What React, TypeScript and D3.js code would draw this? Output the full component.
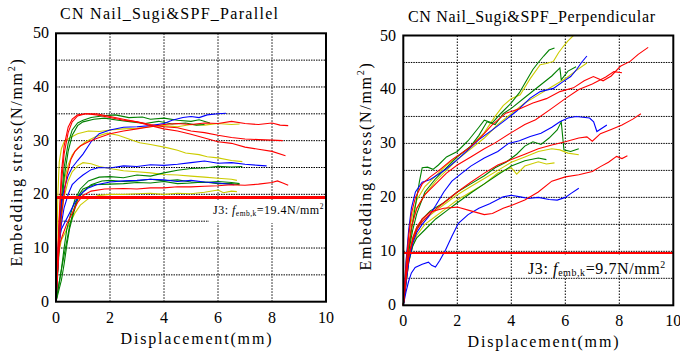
import * as d3 from 'd3'

type Pt = [number, number]

const xTicks = [0, 2, 4, 6, 8, 10]
const yTicks = [0, 10, 20, 30, 40, 50]
const xGrid = [2, 4, 6, 8]
const yGrid = [5, 10, 15, 20, 25, 30, 35, 40, 45]

// ---- Parallel (left) ----
const parRedA: Pt[] = [[0,0],[0.05,6],[0.12,15],[0.2,22],[0.3,27.5],[0.45,31.5],[0.6,33.5],[0.8,34.6],[1.1,35],[1.5,34.8],[2,34.3],[2.5,33.8],[3,33.5],[3.5,33],[4,32.6],[4.5,32.4],[5,31.8],[5.5,31.5],[6,31],[6.5,30.6],[7,30.3],[7.5,30.2],[8,30.1],[8.4,30]]
const parRedB: Pt[] = [[0,0],[0.05,7],[0.12,16],[0.2,24],[0.3,29],[0.45,32.5],[0.6,34],[0.8,34.8],[1.1,35],[1.5,35],[2,34.5],[2.5,34],[3,33.5],[3.5,32.8],[4,32.2],[4.5,31.8],[5,31.2],[5.5,30.5],[6,29.8],[6.5,29.5],[7,28.8],[7.5,28.4],[8,28],[8.5,27.2]]
const parRedC: Pt[] = [[0,0],[0.05,5],[0.12,11],[0.2,16],[0.3,20],[0.4,23.5],[0.55,26.5],[0.7,28],[0.9,29],[1.2,29.8],[1.5,30.4],[2,31.3],[2.5,31.8],[3,32.2],[3.5,32.6],[4,33],[4.5,33.2],[5,33],[5.5,33.3],[6,33.2],[6.5,33.6],[7,33.2],[7.5,33],[8,33.3],[8.3,32.9],[8.6,32.8]]
const parRedE: Pt[] = [[0,0],[0.05,5],[0.1,9],[0.15,11],[0.25,12.5],[0.4,14.5],[0.6,16.5],[0.8,18.5],[1,19.8],[1.3,20.6],[1.8,21],[2.5,21.1],[3,21],[3.5,21.2],[4,21.2],[4.5,21.4],[5,21.4],[5.5,21.5],[6,21.6],[6.5,21.8],[7,21.7],[7.5,21.9],[8,22.2],[8.2,22.5],[8.4,22.1],[8.6,21.7]]
const parBlueA: Pt[] = [[0,0],[0.05,7],[0.12,14],[0.2,18.5],[0.3,21],[0.45,23.5],[0.6,25],[0.8,26.3],[1,27.5],[1.3,29.8],[1.6,31.3],[2,32],[2.5,32.5],[3,32.6],[3.5,32.8],[4,33.2],[4.3,33.8],[4.7,34.3],[5,34.5],[5.3,34.3],[5.6,34.8],[6,35],[6.3,35.1]]
const parBlueB: Pt[] = [[0,0],[0.05,5],[0.1,10],[0.2,14.5],[0.3,17.5],[0.45,20],[0.6,21.8],[0.8,22.8],[1,23.6],[1.3,24.6],[1.6,25],[2,24.9],[2.5,25.3],[3,25.2],[3.5,25.5],[4,25.4],[4.5,25.6],[5,25.9],[5.5,26.2],[6,25.8],[6.5,25.9],[7,25.6],[7.5,25.4],[7.8,25.3]]
const parBlueC: Pt[] = [[0,0],[0.05,6],[0.1,11],[0.2,13.5],[0.3,14.5],[0.5,16.5],[0.7,18.5],[0.9,20],[1.2,21.2],[1.5,21.8],[2,22.3],[2.5,22.5],[3,22.6],[3.5,22.8],[4,22.7],[4.5,22.4],[5,22.6],[5.5,22.3],[6,22.1],[6.6,21.8]]
const parGreenA: Pt[] = [[0,0],[0.05,5],[0.12,12],[0.2,19],[0.3,25],[0.45,29.5],[0.6,32],[0.8,33.3],[1,33.8],[1.3,34.3],[1.7,34.6],[2.2,34.8],[2.7,34.3],[3.2,34.4],[3.5,34],[4,34.2],[4.5,33.8],[5,33.6],[5.3,33.9],[5.7,33.3]]
const parGreenB: Pt[] = [[0,0],[0.05,4],[0.12,10],[0.2,17],[0.3,23],[0.45,28],[0.6,31],[0.8,32.8],[1,33.5],[1.4,34],[1.8,34.2],[2.3,33.8],[2.8,33.5],[3.3,33.2],[3.8,33.6],[4.3,33.1],[4.8,33.3],[5.2,32.9],[5.5,33]]
const parGreenC: Pt[] = [[0,0],[0.1,3],[0.2,6],[0.3,10],[0.4,13.5],[0.55,16.5],[0.7,19],[0.9,21],[1.2,22.5],[1.6,23.2],[2,23.3],[2.5,23.1],[3,23.6],[3.5,23.4],[4,24],[4.5,24.5],[5,24.8],[5.5,24.9],[6,25.2],[6.5,25.1],[6.9,25.2]]
const parGreenD: Pt[] = [[0,0],[0.1,2],[0.2,4],[0.3,7],[0.4,10.5],[0.5,13.5],[0.65,16.5],[0.8,19],[1,20.5],[1.3,21.8],[1.7,22.5],[2,22.6],[2.5,22.4],[3,22.5],[3.5,22.8],[4,22.5],[4.5,22.7],[5,22.3],[5.5,22.2],[6,22.4],[6.5,22.2],[6.8,22]]
const parGreenE: Pt[] = [[0,0],[0.1,3],[0.2,6],[0.35,10],[0.5,14],[0.65,17],[0.8,19.5],[1,21],[1.4,21.8],[2,21.9],[2.5,22],[3,22.2],[3.5,22.1],[4,22.4],[4.5,22],[5,22.1],[5.5,22.3],[6,22],[6.5,22],[6.8,21.8]]
const parYellowA: Pt[] = [[0,0],[0.03,10],[0.07,20],[0.12,26],[0.2,28.5],[0.3,29.8],[0.5,30.5],[0.8,31.3],[1.2,31.8],[1.6,31.7],[2,32],[2.5,32.2],[3,32.3],[3.5,32.6],[4,32.8],[4.5,32.6],[5,33],[5.5,32.9],[6,33.2],[6.5,33],[6.8,33.1]]
const parYellowB: Pt[] = [[0,0],[0.05,5],[0.12,12],[0.2,18],[0.3,22.5],[0.45,25.5],[0.6,27.3],[0.8,28.6],[1.1,29.8],[1.5,30.8],[1.9,31.4],[2.3,31],[2.7,30.3],[3.1,29.6],[3.5,29.3],[4.1,28.7],[4.5,28.2],[4.8,27.7],[5.3,27.4],[5.6,27],[6,26.8],[6.5,26.3],[6.9,26.1]]
const parYellowC: Pt[] = [[0,0],[0.05,6],[0.12,12],[0.2,16],[0.3,19.5],[0.45,22.5],[0.6,24.2],[0.8,25.3],[1,25.9],[1.3,25.7],[1.6,25.2],[2,24.8],[2.5,24.4],[3,24.2],[3.5,24],[4,23.7],[4.5,23.6],[5,23.4],[5.5,23.2],[6,23],[6.5,22.8],[6.7,22.6]]
const parYellowD: Pt[] = [[0,0],[0.05,5],[0.1,9],[0.2,11.5],[0.35,13],[0.5,14.5],[0.7,16.5],[0.9,18],[1.2,19.2],[1.6,19.8],[2,20],[2.5,20],[3,20.1],[3.5,20.2],[4,20],[4.5,20.2],[5,20.1],[5.5,20.4],[6,20.8],[6.2,20.3],[6.5,20.6],[6.7,20.5]]

// ---- Perpendicular (right) ----
const perYellow1: Pt[] = [[0,0],[0.1,8],[0.2,13],[0.35,17],[0.5,19.5],[0.8,22],[1.2,24],[1.6,26],[2,27.5],[2.5,29.5],[3,32],[3.4,35],[3.7,37],[4,38.3],[4.33,39],[4.7,42],[5.07,44.6],[5.3,44.8],[5.56,45.2],[5.75,46.8],[5.93,48],[6.1,49],[6.3,50]]
const perGreen1: Pt[] = [[0,0],[0.1,5],[0.2,10],[0.3,14],[0.4,17],[0.5,20],[0.6,23],[0.7,25.5],[0.9,25.6],[1.1,25.2],[1.3,26],[1.6,27.5],[2,28.5],[2.4,30.5],[2.8,33],[3,34.3],[3.3,33.8],[3.6,35.5],[4,37.5],[4.3,39.4],[4.6,42],[4.8,43.7],[5,45],[5.2,46.2],[5.4,47.3],[5.6,47.7]]
const perBlue1: Pt[] = [[0,0],[0.1,8],[0.2,14],[0.3,18],[0.45,21],[0.7,22.8],[1,23.3],[1.3,24.3],[1.6,25.3],[2,27],[2.4,28.8],[2.8,30.7],[3.3,32.5],[3.8,34.4],[4.2,36],[4.7,38.4],[5.07,39.6],[5.56,40.2],[5.93,41.5],[6.2,42.4],[6.42,43.7],[6.6,45],[6.8,46.2]]
const perYellow2: Pt[] = [[0,0],[0.1,6],[0.2,11],[0.35,15.5],[0.5,18],[0.8,20.5],[1.2,23],[1.6,25],[2,27],[2.5,29],[3,31],[3.5,33.5],[4,35.5],[4.5,37.5],[5,39],[5.5,40.5],[6,42],[6.4,43.5],[6.8,44.9]]
const perGreen2: Pt[] = [[0,0],[0.1,5],[0.2,10],[0.35,14],[0.5,17],[0.8,21],[1.2,23.5],[1.6,25.5],[2,27.5],[2.5,29.5],[2.8,31.5],[3.1,34],[3.4,33.5],[3.7,35.5],[4,36.5],[4.5,38.5],[5,40.5],[5.5,42.5],[5.8,44],[5.85,41.8],[6.1,43.4],[6.4,44.2]]
const perRed1: Pt[] = [[0,0],[0.1,7],[0.2,13],[0.3,17],[0.45,20],[0.7,22.5],[1,23.8],[1.3,24.9],[1.8,27],[2.4,29],[2.9,31.3],[3.3,33.5],[3.8,35.6],[4.3,36.4],[4.8,37.5],[5.3,38.3],[5.8,39.6],[6.3,40.3],[6.7,41.6],[7.04,42.4],[7.4,41.6],[7.7,42.5],[8.04,44.3],[8.4,45.2],[8.7,46.5],[9.07,47.8]]
const perRed2: Pt[] = [[0,0],[0.1,6],[0.2,11],[0.3,14.5],[0.5,18],[0.8,20.5],[1.2,22.5],[1.6,24.5],[2,26],[2.5,27.5],[3,29],[3.4,30.1],[4,32],[4.5,33.5],[4.9,34.4],[5.5,36.5],[6,38.3],[6.5,40],[7,41],[7.5,42.3],[7.8,43.3],[8.1,43.1]]
const perBlue2: Pt[] = [[0,0],[0.1,4],[0.2,8],[0.35,11.5],[0.5,13.5],[0.7,15],[0.93,16.4],[1.2,18.5],[1.5,21],[1.8,23],[2.17,24.5],[2.5,25.8],[3,27.3],[3.5,28.5],[3.9,30],[4.3,30.5],[4.7,31.3],[5.1,31.9],[5.5,33],[5.8,34],[6.1,34.7],[6.4,35],[6.9,34.7],[7.05,34],[7.17,32.2],[7.54,33.4]]
const perGreen3: Pt[] = [[0,0],[0.1,5],[0.2,9],[0.35,12],[0.5,14],[0.7,16],[1,17.5],[1.5,19],[2,21],[2.5,22.5],[3,24],[3.4,25.5],[3.8,26.5],[4.2,28],[4.5,29.5],[4.8,30.3],[5.1,29.8],[5.4,31],[5.7,32.5],[5.85,34],[5.95,28.8],[6.2,28.5],[6.5,29]]
const perGreen4: Pt[] = [[0,0],[0.1,4],[0.2,8],[0.35,11],[0.5,12.5],[0.8,14],[1.2,16],[1.6,17.5],[2,19],[2.5,20.8],[3,22.5],[3.5,24.2],[4,25.8],[4.5,26.8],[5,27.3],[5.3,27]]
const perRed3: Pt[] = [[0,0],[0.1,5],[0.2,9],[0.35,12],[0.5,14],[0.7,15.5],[1,17],[1.5,19],[2,21],[2.5,22.8],[3,24.5],[3.5,26],[4,27],[4.5,28],[5,29],[5.5,29.7],[6,30.3],[6.5,31],[6.8,31.2],[7,30.4],[7.3,31.8],[7.7,32.6],[8.1,33.4],[8.5,34.5],[8.8,35.5]]
const perYellow3: Pt[] = [[0,0],[0.1,5],[0.2,9],[0.35,12.5],[0.5,14.5],[0.8,16],[1.2,17.5],[1.6,19],[2,20.5],[2.5,22],[3,23.5],[3.5,25],[4,26.5],[4.5,27.5],[5,28.5],[5.5,29],[5.8,28.8],[6.1,28.2],[6.5,27.9]]
const perYellow4: Pt[] = [[0,0],[0.1,4],[0.2,8],[0.35,11],[0.5,13],[0.8,15],[1.2,16.5],[1.6,18],[2,19.5],[2.5,21],[3,22.5],[3.5,24.5],[4,25.5],[4.2,24.3],[4.5,25.8],[5,26.6],[5.3,26.2],[5.6,26.4]]
const perRed4: Pt[] = [[0,0],[0.1,5],[0.2,9],[0.35,12.5],[0.5,14.5],[0.7,16],[1,17.3],[1.5,18],[2,18.2],[2.5,17.5],[3,16.8],[3.3,17],[3.7,18],[4,18.5],[4.5,19.5],[5,21],[5.5,23],[6,23.8],[6.5,24.2],[7,24.8],[7.3,25.7],[7.6,26.5],[7.9,27.6],[8.1,27.2],[8.3,27.7]]
const perBlue3: Pt[] = [[0,0],[0.1,2.5],[0.2,4.5],[0.3,6],[0.44,7],[0.7,7.6],[0.93,8],[1.05,7.4],[1.19,7.1],[1.35,8.3],[1.56,10.2],[1.8,12.8],[2.04,15.2],[2.4,16.8],[2.8,18],[3.2,18.8],[3.7,20.1],[4,20.4],[4.33,20.1],[4.64,19.8],[5,20],[5.4,19.6],[5.7,19.5],[6,20],[6.2,20.7],[6.5,21.7]]

const colors: Record<string, string> = {
  red: '#ff0000',
  blue: '#0000ff',
  green: '#008000',
  yellow: '#cccc00'
}

const parallelSeries = [
  { color: 'yellow', pts: parYellowA }, { color: 'yellow', pts: parYellowB },
  { color: 'yellow', pts: parYellowC }, { color: 'yellow', pts: parYellowD },
  { color: 'green', pts: parGreenA }, { color: 'green', pts: parGreenB },
  { color: 'green', pts: parGreenC }, { color: 'green', pts: parGreenD }, { color: 'green', pts: parGreenE },
  { color: 'blue', pts: parBlueA }, { color: 'blue', pts: parBlueB }, { color: 'blue', pts: parBlueC },
  { color: 'red', pts: parRedA }, { color: 'red', pts: parRedB }, { color: 'red', pts: parRedC }, { color: 'red', pts: parRedE }
]

const perpSeries = [
  { color: 'yellow', pts: perYellow1 }, { color: 'yellow', pts: perYellow2 },
  { color: 'yellow', pts: perYellow3 }, { color: 'yellow', pts: perYellow4 },
  { color: 'green', pts: perGreen1 }, { color: 'green', pts: perGreen2 },
  { color: 'green', pts: perGreen3 }, { color: 'green', pts: perGreen4 },
  { color: 'blue', pts: perBlue1 }, { color: 'blue', pts: perBlue2 }, { color: 'blue', pts: perBlue3 },
  { color: 'red', pts: perRed1 }, { color: 'red', pts: perRed2 }, { color: 'red', pts: perRed3 }, { color: 'red', pts: perRed4 }
]

const serif = { fontFamily: '"Liberation Serif", "DejaVu Serif", serif' }

interface PanelProps {
  left: number
  right: number
  top: number
  bottom: number
  title: string
  titleX: number
  titleLen: number
  yTitleX: number
  yTitleY: number
  xTitleX: number
  series: { color: string; pts: Pt[] }[]
  limit: number
  limitWidth: number
  limitText: string
  box: { x0: number; x1: number; y0: number; y1: number }
  labelX: number
  labelY: number
  labelSize: number
  labelSpacing: number
  yLabelX: number
}

function Panel(p: PanelProps) {
  const x = d3.scaleLinear().domain([0, 10]).range([p.left, p.right])
  const y = d3.scaleLinear().domain([0, 50]).range([p.bottom, p.top])
  const line = d3.line<Pt>().x(d => x(d[0])).y(d => y(d[1]))
  const sub = p.labelSize * 0.62

  return (
    <g>
      <text x={p.titleX} y={p.top - 14} textAnchor="middle" style={serif} fontSize={16}
        textLength={p.titleLen} lengthAdjust="spacing">{p.title}</text>

      {yGrid.map(v => (
        <line key={'h' + v} x1={p.left} x2={p.right} y1={y(v)} y2={y(v)}
          stroke="#000" strokeWidth={1} strokeDasharray="1.5,1" />
      ))}
      {xGrid.map(v => (
        <line key={'v' + v} x1={x(v)} x2={x(v)} y1={p.top} y2={p.bottom}
          stroke="#000" strokeWidth={1} strokeDasharray="1.5,1.5" />
      ))}

      <rect x={p.box.x0} y={p.box.y0} width={p.box.x1 - p.box.x0} height={p.box.y1 - p.box.y0} fill="#fff" />

      {p.series.map((s, i) => (
        <path key={i} d={line(s.pts) || ''} fill="none" stroke={colors[s.color]} strokeWidth={1.1} />
      ))}

      <line x1={p.left} x2={p.right} y1={y(p.limit)} y2={y(p.limit)} stroke="#ff0000" strokeWidth={p.limitWidth} />

      <text x={p.labelX} y={p.labelY} style={serif} fontSize={p.labelSize} letterSpacing={p.labelSpacing}>
        <tspan>J3: </tspan>
        <tspan fontStyle="italic">f</tspan>
        <tspan fontSize={sub} dy={2}>emb,k</tspan>
        <tspan dy={-2}>{p.limitText}N/mm</tspan>
        <tspan fontSize={sub} dy={-p.labelSize * 0.4}>2</tspan>
      </text>

      <rect x={p.left} y={p.top} width={p.right - p.left} height={p.bottom - p.top}
        fill="none" stroke="#000" strokeWidth={2} />

      {yTicks.map(v => (
        <text key={'yt' + v} x={p.yLabelX} y={y(v) + 5} textAnchor="end" style={serif} fontSize={16}>{v}</text>
      ))}
      {xTicks.map(v => (
        <text key={'xt' + v} x={x(v)} y={p.bottom + 21} textAnchor="middle" style={serif} fontSize={16}>{v}</text>
      ))}

      <text x={p.xTitleX} y={p.bottom + 42} textAnchor="middle" style={serif} fontSize={16}
        textLength={151} lengthAdjust="spacing">Displacement(mm)</text>

      <text transform={`translate(${p.yTitleX},${p.yTitleY}) rotate(-90)`} textAnchor="middle"
        style={serif} fontSize={16} letterSpacing={1.7}>
        Embedding stress(N/mm<tspan fontSize={10} dy={-7}>2</tspan><tspan dy={7}>)</tspan>
      </text>
    </g>
  )
}

export default function App() {
  return (
    <svg width={680} height={353} style={{ position: 'absolute', left: 0, top: 0, background: '#fff' }}>
      <rect width={680} height={353} fill="#fff" />
      <Panel left={56} right={326} top={33.3} bottom={301.7}
        title="CN Nail_Sugi&SPF_Parallel" titleX={169} titleLen={218}
        yTitleX={22} yTitleY={162} xTitleX={196}
        series={parallelSeries} limit={19.4} limitWidth={3} limitText="=19.4"
        box={{ x0: 209, x1: 326, y0: 200, y1: 223 }}
        labelX={213} labelY={214} labelSize={12} labelSpacing={0.5} yLabelX={49} />
      <Panel left={403.3} right={673.3} top={35.5} bottom={305.3}
        title="CN Nail_Sugi&SPF_Perpendicular" titleX={531.5} titleLen={247}
        yTitleX={371} yTitleY={166} xTitleX={543}
        series={perpSeries} limit={9.7} limitWidth={2} limitText="=9.7"
        box={{ x0: 524, x1: 673, y0: 255, y1: 274 }}
        labelX={528} labelY={274} labelSize={16} labelSpacing={0.6} yLabelX={396} />
    </svg>
  )
}
